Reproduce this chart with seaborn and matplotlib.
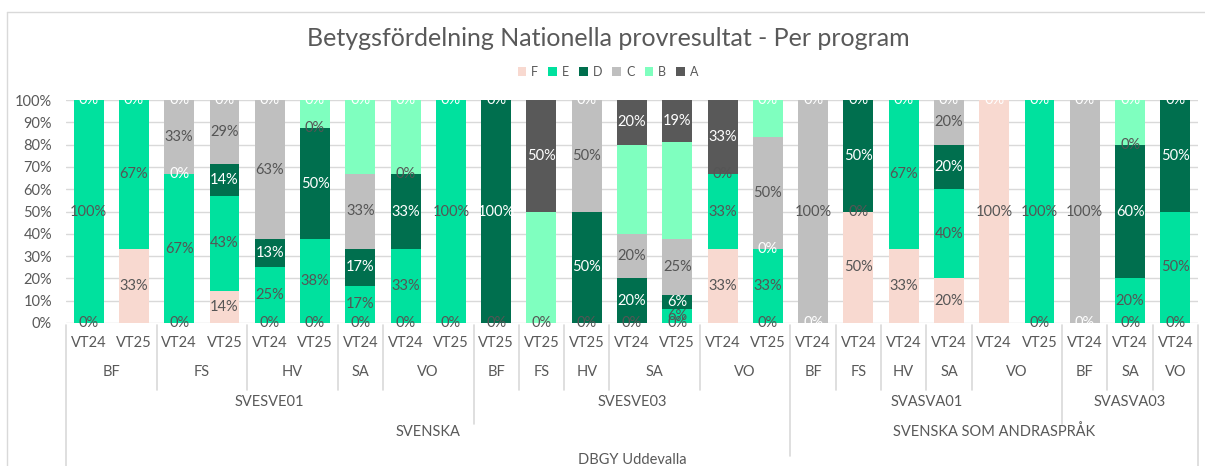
import numpy as np
import pandas as pd
import matplotlib
matplotlib.use("Agg")
import matplotlib.pyplot as plt
from matplotlib.patches import Patch
from matplotlib.lines import Line2D
import seaborn as sns

# ---------------- data ----------------
periods = ["VT24", "VT25", "VT24", "VT25", "VT24", "VT25", "VT24", "VT24", "VT25",
           "VT25", "VT25", "VT25", "VT24", "VT25", "VT24", "VT25",
           "VT24", "VT24", "VT24", "VT24", "VT24", "VT25",
           "VT24", "VT24", "VT24"]
programs = ["BF", "BF", "FS", "FS", "HV", "HV", "SA", "VO", "VO",
            "BF", "FS", "HV", "SA", "SA", "VO", "VO",
            "BF", "FS", "HV", "SA", "VO", "VO",
            "BF", "SA", "VO"]
courses = ["SVESVE01"] * 9 + ["SVESVE03"] * 7 + ["SVASVA01"] * 6 + ["SVASVA03"] * 3
subjects = ["SVENSKA"] * 16 + ["SVENSKA SOM ANDRASPRÅK"] * 9
school = "DBGY Uddevalla"

grades = ["F", "E", "D", "C", "B", "A"]
N = None
F = [0, 33.33, 0, 14.29, 0, 0, 0, 0, 0,
     0, 0, 0, 0, 0, 33.33, 0,
     N, 50, 33.33, 20, 100, 0,
     N, 0, 0]
E = [100, 66.67, 66.67, 42.86, 25, 37.5, 16.67, 33.33, 100,
     N, N, N, N, 6.25, 33.33, 33.33,
     N, 0, 66.67, 40, N, 100,
     N, 20, 50]
D = [N, N, 0, 14.29, 12.5, 50, 16.67, 33.33, N,
     100, N, 50, 20, 6.25, N, 0,
     0, 50, N, 20, N, N,
     0, 60, 50]
C = [N, N, 33.33, 28.57, 62.5, 0, 33.33, 0, N,
     N, N, 50, 20, 25, 0, 50,
     100, N, N, 20, N, N,
     100, 0, N]
B = [N, N, N, N, N, 12.5, 33.33, 33.33, N,
     N, 50, N, 40, 43.75, N, 16.67,
     N, N, N, N, N, N,
     N, 20, N]
A = [0, 0, 0, 0, 0, 0, 0, 0, 0,
     0, 50, 0, 20, 18.75, 33.34, 0,
     0, 0, 0, 0, 0, 0,
     0, 0, 0]
series = {"F": F, "E": E, "D": D, "C": C, "B": B, "A": A}

colors = {"F": "#F8D9D0", "E": "#00E19E", "D": "#006F4E",
          "C": "#BFBFBF", "B": "#7FFFBF", "A": "#595959"}
label_colors = {"F": "#555555", "E": "#555555", "D": "#FFFFFF",
                "C": "#555555", "B": None, "A": "#FFFFFF"}

# ---------------- style ----------------
sns.set_theme(style="white")
plt.rcParams["font.family"] = ["Lato", "DejaVu Sans"]
TXT = "#595959"
GRID = "#D9D9D9"
FS = 10.5

W, H = 1205, 466
fig = plt.figure(figsize=(W / 100, H / 100), dpi=100)
L, R, T, Bt = 66, 1198, 100, 323
ax = fig.add_axes([L / W, 1 - Bt / H, (R - L) / W, (Bt - T) / H])

n = len(periods)
idx = np.arange(n)
vals = pd.DataFrame({g: pd.Series(series[g], dtype=float) for g in grades})
cum = vals.fillna(0).cumsum(axis=1)

# draw cumulative bars from top of stack down
for g in grades[::-1]:
    df = pd.DataFrame({"x": idx, "y": cum[g].values})
    sns.barplot(data=df, x="x", y="y", color=colors[g], width=0.66,
                saturation=1, ax=ax, zorder=2, edgecolor="none", linewidth=0)

ax.set_xlim(-0.5, n - 0.5)
ax.set_ylim(0, 100)
ax.set_yticks(np.arange(0, 101, 10))
ax.set_yticklabels([f"{v}%" for v in range(0, 101, 10)], color=TXT, fontsize=FS)
ax.set_xticks([])
ax.set_xlabel("")
ax.set_ylabel("")
ax.grid(axis="y", color=GRID, linewidth=1, zorder=0)
ax.set_axisbelow(True)
for s in ax.spines.values():
    s.set_visible(False)
ax.tick_params(axis="y", length=0, pad=10)

# data labels
for g in grades:
    lc = label_colors[g]
    if lc is None:
        continue
    for i in range(n):
        v = vals[g].iloc[i]
        if pd.isna(v):
            continue
        ypos = cum[g].iloc[i] - v / 2
        ax.text(i, ypos, f"{int(np.floor(v + 0.5))}%", ha="center", va="center",
                color=lc, fontsize=FS, zorder=5, clip_on=False)

# ---------------- multi-level category axis ----------------
tr = ax.get_xaxis_transform()


def ya(px):
    return (Bt - px) / (Bt - T)


def vline(xb, px_end):
    ax.plot([xb, xb], [ya(Bt + 2), ya(px_end)], color=GRID, lw=1.2,
            transform=tr, clip_on=False, zorder=1)


def groups(keys):
    out = []
    start = 0
    for i in range(1, n + 1):
        if i == n or keys[i] != keys[start]:
            out.append((start, i - 1, keys[start]))
            start = i
    return out


prog_keys = [c + "|" + p for c, p in zip(courses, programs)]
row_px = {"per": 343, "prog": 372, "course": 402, "subj": 432, "school": 460}

for i in range(n):
    ax.text(i, ya(row_px["per"]), periods[i], transform=tr, ha="center",
            va="center", color=TXT, fontsize=FS)
for s, e, k in groups(prog_keys):
    ax.text((s + e) / 2, ya(row_px["prog"]), k.split("|")[1], transform=tr,
            ha="center", va="center", color=TXT, fontsize=FS)
for s, e, k in groups(courses):
    ax.text((s + e) / 2, ya(row_px["course"]), k, transform=tr,
            ha="center", va="center", color=TXT, fontsize=FS)
for s, e, k in groups(subjects):
    ax.text((s + e) / 2, ya(row_px["subj"]), k, transform=tr,
            ha="center", va="center", color=TXT, fontsize=FS)
ax.text((n - 1) / 2, ya(row_px["school"]), school, transform=tr,
        ha="center", va="center", color=TXT, fontsize=FS)

# separators
subj_b = {s for s, e, k in groups(subjects)}
course_b = {s for s, e, k in groups(courses)}
prog_b = {s for s, e, k in groups(prog_keys)}
for b in sorted(prog_b | course_b | subj_b):
    if b == 0:
        continue
    if b in subj_b:
        end = 456
    elif b in course_b:
        end = 424
    else:
        end = 390
    vline(b - 0.5, end)
vline(-0.5, H + 5)
vline(n - 0.5, H + 5)

# ---------------- title & legend ----------------
fig.text(608 / W, 1 - 38 / H, "Betygsfördelning Nationella provresultat - Per program",
         ha="center", va="center", color=TXT, fontsize=18)
handles = [Patch(facecolor=colors[g], edgecolor="none", label=g) for g in grades]
fig.legend(handles=handles, loc="center", bbox_to_anchor=(608 / W, 1 - 72 / H),
           ncol=6, frameon=False, fontsize=9, handlelength=0.7, handleheight=0.7,
           handletextpad=0.4, columnspacing=0.8, labelcolor=TXT)

# chart border
fig.add_artist(Line2D([7 / W, 7 / W], [1 - 12 / H, 0], color=GRID, lw=1,
                      transform=fig.transFigure))
fig.add_artist(Line2D([7 / W, 1], [1 - 12 / H, 1 - 12 / H], color=GRID, lw=1,
                      transform=fig.transFigure))

fig.savefig("out.png", dpi=100, facecolor="white")
